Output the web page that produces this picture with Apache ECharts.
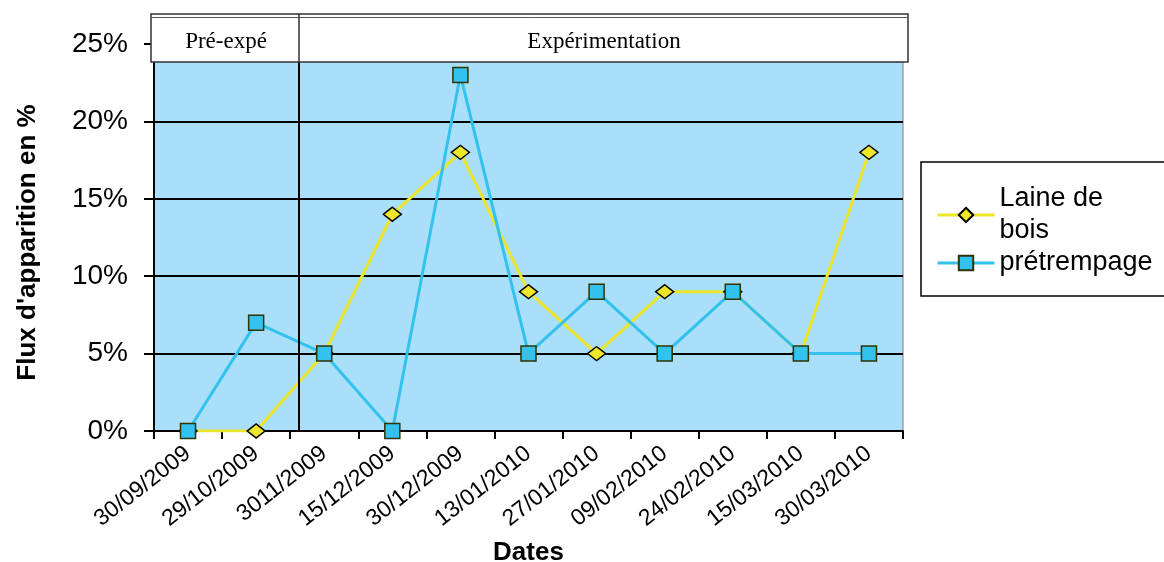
<!DOCTYPE html>
<html>
<head>
<meta charset="utf-8">
<script src="https://cdn.jsdelivr.net/npm/echarts@6/dist/echarts.min.js"></script>
<style>
html,body{margin:0;padding:0;background:#fff;}
#c{width:1164px;height:562px;}
</style>
</head>
<body>
<div id="c"></div>
<script>
const categories = ['30/09/2009','29/10/2009','3011/2009','15/12/2009','30/12/2009','13/01/2010','27/01/2010','09/02/2010','24/02/2010','15/03/2010','30/03/2010'];
const laineDeBois = [0, 0, 5, 14, 18, 9, 5, 9, 9, 5, 18];
const pretrempage = [0, 7, 5, 0, 23, 5, 9, 5, 9, 5, 5];
const seriesNames = ['Laine de\nbois', 'prétrempage'];
const yTicks = [0, 5, 10, 15, 20, 25];
const phaseLabels = ['Pré-expé', 'Expérimentation'];
const phaseBoundary = [2.12]; // position on category scale (0..11)

const chart = echarts.init(document.getElementById('c'));
const FONT = 'Liberation Sans';
const Z = 100;
const YELLOW = '#EEE62A', BLUE = '#33C2EE';
chart.setOption({
  animation: false,
  backgroundColor: '#fff',
  grid: {left: 154, right: 261, top: 44, bottom: 131, show: true, outerBoundsMode: 'none', containLabel: false,
         backgroundColor: '#A9DFF9', borderColor: '#7f7f7f', borderWidth: 1},
  legend: {
    left: 931, top: 178, orient: 'vertical', itemGap: 0,
    itemWidth: 57, itemHeight: 18,
    textStyle: {fontFamily: FONT, fontSize: 27, color: '#000', lineHeight: 32},
    data: [
      {name: seriesNames[0], lineStyle: {width: 3, color: YELLOW}},
      {name: seriesNames[1], lineStyle: {width: 3, color: BLUE}}
    ]
  },
  xAxis: [{
    type: 'category', data: categories, boundaryGap: true,
    axisLine: {lineStyle: {color: '#000', width: 2}},
    axisTick: {show: true, length: 8, lineStyle: {color: '#000', width: 2}},
    axisLabel: {rotate: 38, margin: 20, fontFamily: FONT, fontSize: 23, color: '#000'},
    name: 'Dates', nameLocation: 'middle', nameGap: 109,
    nameTextStyle: {fontFamily: FONT, fontSize: 26, fontWeight: 'bold', color: '#000'}
  }, {
    type: 'value', min: 0, max: categories.length, show: false
  }],
  yAxis: {
    type: 'value', min: 0, max: 25, interval: 5,
    axisLine: {show: true, lineStyle: {color: '#000', width: 2}},
    axisTick: {show: true, length: 10, lineStyle: {color: '#000', width: 2}},
    splitLine: {show: true, lineStyle: {color: '#000', width: 2}},
    axisLabel: {formatter: '{value}%', margin: 26, fontFamily: FONT, fontSize: 28, color: '#000'},
    name: "Flux d'apparition en %", nameLocation: 'middle', nameGap: 113, nameRotate: 90,
    nameTextStyle: {fontFamily: FONT, fontSize: 26, fontWeight: 'bold', color: '#000', padding: [0, 10, 0, 0]}
  },
  series: [{
    name: seriesNames[0], type: 'line', data: laineDeBois,
    symbol: 'diamond', symbolSize: [18, 14],
    lineStyle: {color: YELLOW, width: 3},
    itemStyle: {color: YELLOW, borderColor: '#000', borderWidth: 1.5},
    z: 3
  }, {
    name: seriesNames[1], type: 'line', data: pretrempage,
    symbol: 'rect', symbolSize: 15,
    lineStyle: {color: BLUE, width: 3},
    itemStyle: {color: BLUE, borderColor: '#333300', borderWidth: 1.5},
    z: 4
  }, {
    name: 'sep', type: 'line', xAxisIndex: 1, data: [],
    markLine: {
      silent: true, symbol: 'none', label: {show: false},
      lineStyle: {color: '#000', width: 2, type: 'solid'},
      data: phaseBoundary.map(v => ({xAxis: v}))
    }
  }],
  graphic: [
    {type: 'rect', z: Z, zlevel: 1, shape: {x: 151, y: 14, width: 757, height: 48},
     style: {fill: '#fff', stroke: '#333', lineWidth: 1.5}},
    {type: 'line', z: Z + 1, zlevel: 1, shape: {x1: 151, y1: 17.5, x2: 908, y2: 17.5}, style: {stroke: '#555', lineWidth: 1}},
    {type: 'line', z: Z + 1, zlevel: 1, shape: {x1: 299, y1: 14, x2: 299, y2: 62}, style: {stroke: '#333', lineWidth: 1.5}},
    {type: 'text', z: Z + 1, zlevel: 1, x: 226, y: 42, style: {text: phaseLabels[0], font: '23px "Liberation Serif"', fill: '#000', textAlign: 'center', textVerticalAlign: 'middle'}},
    {type: 'text', z: Z + 1, zlevel: 1, x: 604, y: 42, style: {text: phaseLabels[1], font: '23px "Liberation Serif"', fill: '#000', textAlign: 'center', textVerticalAlign: 'middle'}},
    {type: 'rect', z: -1, shape: {x: 921, y: 162, width: 260, height: 134},
     style: {fill: '#fff', stroke: '#000', lineWidth: 1.5}}
  ]
});
</script>
</body>
</html>
